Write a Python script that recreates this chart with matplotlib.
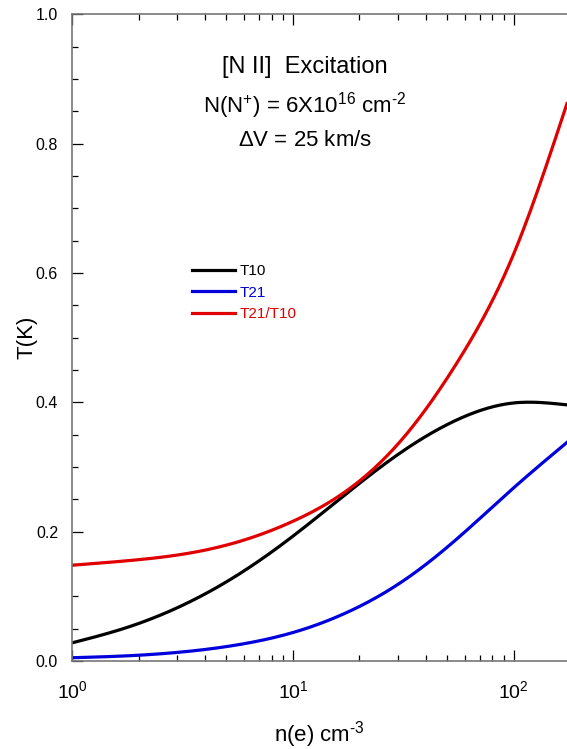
import matplotlib
matplotlib.use("Agg")
import matplotlib.pyplot as plt
import numpy as np
from matplotlib.ticker import LogLocator, MultipleLocator, NullFormatter

plt.rcParams["font.family"] = ["Liberation Sans", "DejaVu Sans"]
plt.rcParams["mathtext.fontset"] = "custom"
plt.rcParams["mathtext.rm"] = "Liberation Sans"
plt.rcParams["mathtext.it"] = "Liberation Sans"

# electron density n(e), cm^-3 (quarter-decade samples)
ne = [1.0, 1.78, 3.16, 5.62, 10.0, 17.8, 31.6, 56.2, 100.0, 174.0]
t10 = [0.028, 0.052, 0.086, 0.133, 0.193, 0.261, 0.325, 0.374, 0.399, 0.396]
t21 = [0.005, 0.008, 0.014, 0.025, 0.044, 0.076, 0.124, 0.191, 0.268, 0.338]
ratio = [0.148, 0.155, 0.165, 0.184, 0.216, 0.265, 0.345, 0.465, 0.630, 0.862]

series = [("T10", t10, "black"), ("T21", t21, "#0000dd"), ("T21/T10", ratio, "#e00000")]


def natural_spline(x, y, xs):
    # natural cubic spline through the sample points
    x = np.asarray(x, float)
    y = np.asarray(y, float)
    n = len(x)
    h = np.diff(x)
    A = np.zeros((n, n))
    b = np.zeros(n)
    A[0, 0] = A[-1, -1] = 1.0
    for i in range(1, n - 1):
        A[i, i - 1] = h[i - 1]
        A[i, i] = 2 * (h[i - 1] + h[i])
        A[i, i + 1] = h[i]
        b[i] = 6 * ((y[i + 1] - y[i]) / h[i] - (y[i] - y[i - 1]) / h[i - 1])
    M = np.linalg.solve(A, b)
    idx = np.clip(np.searchsorted(x, xs) - 1, 0, n - 2)
    x0, x1 = x[idx], x[idx + 1]
    hh = x1 - x0
    a = (x1 - xs) / hh
    c = (xs - x0) / hh
    return (a * y[idx] + c * y[idx + 1]
            + ((a ** 3 - a) * M[idx] + (c ** 3 - c) * M[idx + 1]) * hh ** 2 / 6)


fig = plt.figure(figsize=(5.67, 7.49), dpi=100)
ax = fig.add_axes([0.127, 0.1175, 0.873, 0.8635])

lx = np.linspace(0, np.log10(ne[-1]), 300)
for label, vals, color in series:
    ys = natural_spline(np.log10(ne), vals, lx)
    ax.plot(10 ** lx, ys, color=color, lw=2.3, label=label)

ax.set_xscale("log")
ax.set_xlim(1, ne[-1])
ax.set_ylim(0, 1.0)

ax.xaxis.set_major_locator(LogLocator(base=10))
ax.xaxis.set_minor_locator(LogLocator(base=10, subs=np.arange(2, 10)))
ax.xaxis.set_minor_formatter(NullFormatter())
ax.yaxis.set_major_locator(MultipleLocator(0.2))
ax.yaxis.set_minor_locator(MultipleLocator(0.05))
ax.yaxis.set_major_formatter(plt.FuncFormatter(lambda v, p: f"{v:.1f}"))

ax.tick_params(which="both", direction="in", top=True, right=False, color="black")
ax.tick_params(which="major", length=8, width=0.9)
ax.tick_params(which="minor", length=4, width=0.9)
ax.tick_params(axis="x", labelsize=14, pad=14)
ax.tick_params(axis="y", labelsize=11.5, pad=10)

for side in ["left", "bottom", "top"]:
    ax.spines[side].set_color("#777777")
    ax.spines[side].set_linewidth(1.2)
ax.spines["right"].set_visible(False)

ax.set_xlabel("n(e) cm$^{\\text{-}3}$", fontsize=16, labelpad=12)
ax.set_ylabel("T(K)", fontsize=16, labelpad=-1)

ax.text(0.47, 0.918, "[N II]  Excitation", transform=ax.transAxes,
        ha="center", va="center", fontsize=17)
ax.text(0.47, 0.859, "N(N$^{+}$) = 6X10$^{16}$ cm$^{\\text{-}2}$", transform=ax.transAxes,
        ha="center", va="center", fontsize=16)
ax.text(0.47, 0.805, "$\\Delta$V = 25 km/s", transform=ax.transAxes,
        ha="center", va="center", fontsize=16)

leg = ax.legend(loc="upper left", bbox_to_anchor=(0.215, 0.635), frameon=False,
                fontsize=11, handlelength=2.8, handletextpad=0.3,
                labelspacing=0.5, labelcolor="linecolor")

fig.savefig("out.png", dpi=100)
